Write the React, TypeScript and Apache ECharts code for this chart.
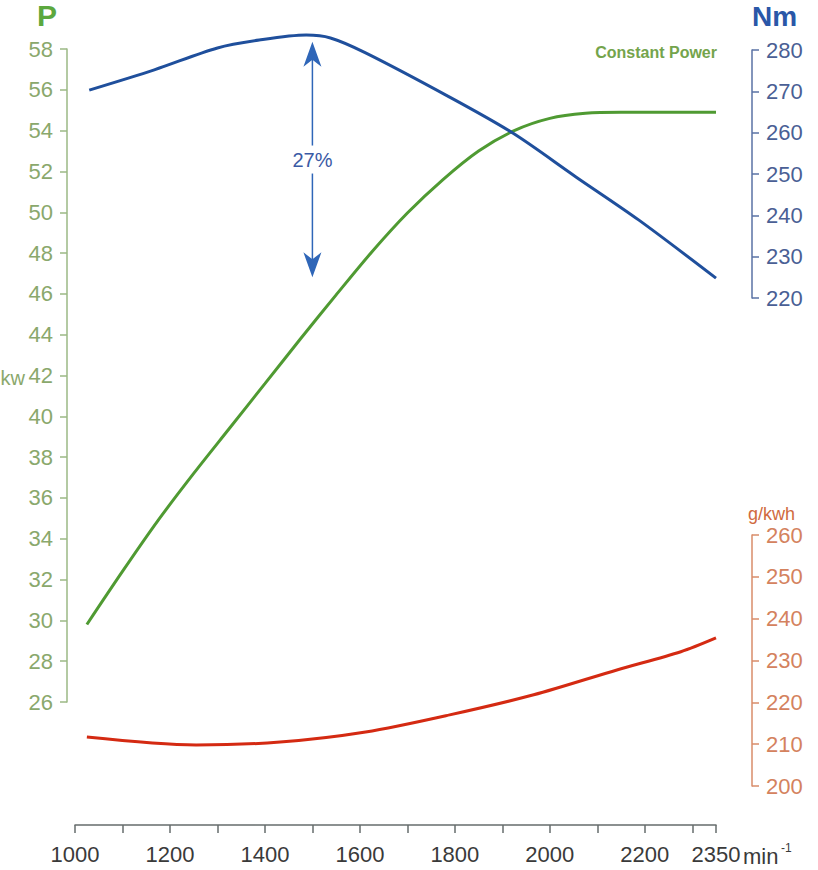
import React, { useEffect, useRef } from "react";
import * as echarts from "echarts";

// Power curve (kW) vs engine speed (min^-1)
const rpmPower = [1025, 1100, 1175, 1250, 1325, 1400, 1475, 1550, 1625, 1700, 1775, 1850, 1925, 2000, 2075, 2150, 2350];
const powerKw = [29.8, 32.4, 34.9, 37.2, 39.4, 41.6, 43.8, 45.95, 48.05, 49.96, 51.6, 53.0, 54.0, 54.6, 54.85, 54.9, 54.9];

// Torque curve (Nm)
const rpmTorque = [1030, 1167, 1300, 1388, 1487, 1538, 1612, 1789, 1922, 2055, 2187, 2350];
const torqueNm = [270.3, 275.2, 280.5, 282.4, 283.6, 282.9, 279.3, 268.6, 259.9, 249.3, 238.9, 224.8];

// Specific fuel consumption (g/kWh)
const rpmFuel = [1025, 1255, 1432, 1612, 1789, 1966, 2143, 2276, 2350];
const fuelGkwh = [211.7, 209.8, 210.5, 212.9, 217.0, 221.8, 227.8, 232.1, 235.4];

// Torque rise annotation
const riseRpm = 1500;
const riseTop = 282;
const riseBottom = 225;
const riseLabel = "27%";

// Axis ranges
const xMin = 1000, xMax = 2350, xStep = 100;
const pMin = 26, pMax = 58, pStep = 2;
const tMin = 220, tMax = 280, tStep = 10;
const fMin = 200, fMax = 260, fStep = 10;

const FONT = '"Liberation Sans", Arial, sans-serif';

const GREEN_LBL = "#8aa86c";
const GREEN_AX = "#9bb884";
const BLUE_LBL = "#4a5f95";
const BLUE_AX = "#5a72a4";
const RED_LBL = "#d4825e";
const RED_AX = "#d98c6a";

function zip(a: number[], b: number[]) {
  return a.map((v, i) => [v, b[i]]);
}

export default function App() {
  const ref = useRef<HTMLDivElement>(null);
  useEffect(() => {
    if (!ref.current) return;
    const chart = echarts.init(ref.current, undefined, { renderer: "svg" });
    const xAxes = [0, 1, 2].map((i) => ({
      type: "value",
      gridIndex: i,
      min: xMin,
      max: xMax,
      interval: xStep,
      show: i === 2,
      position: "bottom",
      offset: 39,
      axisLine: { show: true, lineStyle: { color: "#666c6c", width: 1.5 } },
      axisTick: { show: true, length: 8, lineStyle: { color: "#666c6c", width: 1.5 } },
      axisLabel: {
        show: true,
        fontSize: 22,
        fontFamily: FONT,
        color: "#3a3a3a",
        margin: 18,
        formatter: (v: number) => (v % 200 === 0 || v === xMax ? String(v) : ""),
      },
      splitLine: { show: false },
    }));
    const yCommon = (color: string, axColor: string) => ({
      type: "value",
      axisLine: { show: true, lineStyle: { color: axColor, width: 1.5 } },
      axisTick: { show: true, length: 7, lineStyle: { color: axColor, width: 1.5 } },
      axisLabel: { fontSize: 22, fontFamily: FONT, color, margin: 14 },
      splitLine: { show: false },
    });
    chart.setOption({
      animation: false,
      backgroundColor: "#ffffff",
      grid: [
        { left: 75, width: 641, top: 49, height: 653 },
        { left: 75, width: 641, top: 50, height: 248 },
        { left: 75, width: 641, top: 535, height: 251 },
      ],
      xAxis: xAxes,
      yAxis: [
        { ...yCommon(GREEN_LBL, GREEN_AX), gridIndex: 0, min: pMin, max: pMax, interval: pStep, position: "left", offset: 8 },
        { ...yCommon(BLUE_LBL, BLUE_AX), gridIndex: 1, min: tMin, max: tMax, interval: tStep, position: "right", offset: 36 },
        { ...yCommon(RED_LBL, RED_AX), gridIndex: 2, min: fMin, max: fMax, interval: fStep, position: "right", offset: 36 },
      ],
      series: [
        {
          type: "line",
          name: "Power",
          xAxisIndex: 0,
          yAxisIndex: 0,
          data: zip(rpmPower, powerKw),
          showSymbol: false,
          smooth: 0.3,
          clip: false,
          lineStyle: { color: "#4f9a32", width: 3 },
        },
        {
          type: "line",
          name: "Torque",
          xAxisIndex: 1,
          yAxisIndex: 1,
          data: zip(rpmTorque, torqueNm),
          showSymbol: false,
          smooth: 0.3,
          clip: false,
          lineStyle: { color: "#1f4f9c", width: 3 },
        },
        {
          type: "line",
          name: "Fuel",
          xAxisIndex: 2,
          yAxisIndex: 2,
          data: zip(rpmFuel, fuelGkwh),
          showSymbol: false,
          smooth: 0.3,
          clip: false,
          lineStyle: { color: "#d42a12", width: 3 },
        },
      ],
    });

    const top = chart.convertToPixel({ xAxisIndex: 1, yAxisIndex: 1 }, [riseRpm, riseTop]) as number[];
    const bot = chart.convertToPixel({ xAxisIndex: 1, yAxisIndex: 1 }, [riseRpm, riseBottom]) as number[];
    const ax = top[0];
    const ty = top[1];
    const by = bot[1];
    const my = (ty + by) / 2;
    const arrowColor = "#2f66b8";

    chart.setOption({
      graphic: [
        { type: "text", left: 37, top: 0, style: { text: "P", font: `bold 30px ${FONT}`, fill: "#5ca83e" } },
        { type: "text", left: 752, top: 2, style: { text: "Nm", font: `bold 28px ${FONT}`, fill: "#2a57a8" } },
        { type: "text", left: 748, top: 505, style: { text: "g/kwh", font: `18px ${FONT}`, fill: "#d06a40" } },
        { type: "text", style: { text: "kw", x: 25, y: 378, align: "right", verticalAlign: "middle", font: `20px ${FONT}`, fill: GREEN_LBL } },
        { type: "text", style: { text: "Constant Power", x: 717, y: 52, align: "right", verticalAlign: "middle", font: `bold 16px ${FONT}`, fill: "#74a44c" } },
        { type: "text", style: { text: "min", x: 743, y: 856, align: "left", verticalAlign: "middle", font: `22px ${FONT}`, fill: "#3a3a3a" } },
        { type: "text", style: { text: "-1", x: 781, y: 848, align: "left", verticalAlign: "middle", font: `12px ${FONT}`, fill: "#3a3a3a" } },
        { type: "line", shape: { x1: ax, y1: ty + 16, x2: ax, y2: my - 14 }, style: { stroke: arrowColor, lineWidth: 1.5 } },
        { type: "line", shape: { x1: ax, y1: my + 14, x2: ax, y2: by - 16 }, style: { stroke: arrowColor, lineWidth: 1.5 } },
        { type: "polygon", shape: { points: [[ax, ty], [ax - 9, ty + 25], [ax, ty + 18], [ax + 9, ty + 25]] }, style: { fill: arrowColor } },
        { type: "polygon", shape: { points: [[ax, by], [ax - 9, by - 25], [ax, by - 18], [ax + 9, by - 25]] }, style: { fill: arrowColor } },
        { type: "text", style: { text: riseLabel, x: ax, y: my, align: "center", verticalAlign: "middle", font: `20px ${FONT}`, fill: "#3a5aa5" } },
      ],
    });

    return () => chart.dispose();
  }, []);
  return <div ref={ref} style={{ position: "absolute", left: 0, top: 0, width: 818, height: 870 }} />;
}
